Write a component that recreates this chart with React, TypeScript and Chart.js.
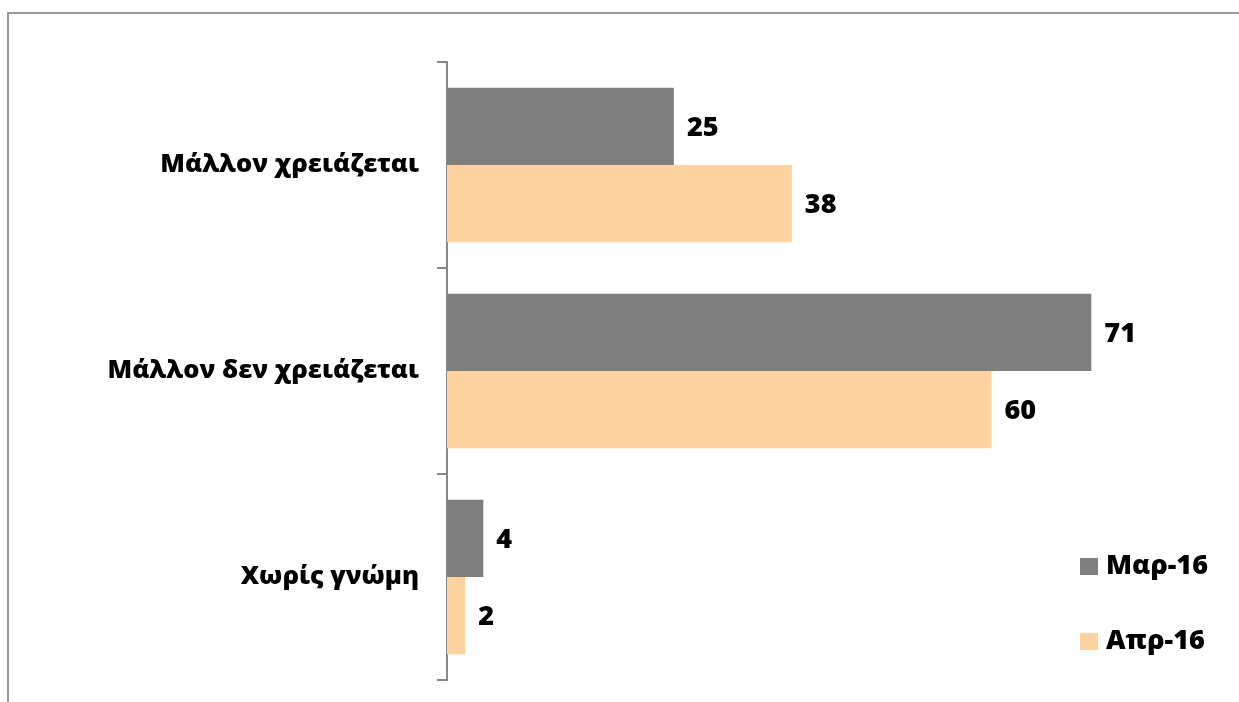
import React, { useEffect, useRef } from "react";
import { Chart, registerables } from "chart.js";

Chart.register(...registerables);

const categories = ["Μάλλον χρειάζεται", "Μάλλον δεν χρειάζεται", "Χωρίς γνώμη"];
const seriesLabels = ["Μαρ-16", "Απρ-16"];
const mar16 = [25, 71, 4];
const apr16 = [38, 60, 2];
const colors = ["#7F7F7F", "#FFD39F"];

const FONT = "'Open Sans', 'Noto Sans', sans-serif";

const valueLabels = {
  id: "valueLabels",
  afterDatasetsDraw(chart: any) {
    const ctx = chart.ctx;
    ctx.save();
    ctx.font = `800 27px ${FONT}`;
    ctx.fillStyle = "#000";
    ctx.textAlign = "left";
    ctx.textBaseline = "middle";
    chart.data.datasets.forEach((ds: any, i: number) => {
      const meta = chart.getDatasetMeta(i);
      meta.data.forEach((bar: any, j: number) => {
        ctx.fillText(String(ds.data[j]), bar.x + 13, bar.y + 2);
      });
    });
    ctx.restore();
  },
};

const customLegend = {
  id: "customLegend",
  afterDraw(chart: any) {
    const ctx = chart.ctx;
    ctx.save();
    ctx.font = `800 27px ${FONT}`;
    ctx.textAlign = "left";
    ctx.textBaseline = "middle";
    const ys = [566, 641];
    chart.data.datasets.forEach((ds: any, i: number) => {
      const y = ys[i];
      ctx.fillStyle = ds.backgroundColor;
      ctx.fillRect(1080, y - 8, 18, 17);
      ctx.fillStyle = "#000";
      ctx.fillText(ds.label, 1106, y);
    });
    ctx.restore();
  },
};

export default function App() {
  const ref = useRef<HTMLCanvasElement>(null);
  useEffect(() => {
    if (!ref.current) return;
    const chart = new Chart(ref.current, {
      type: "bar",
      data: {
        labels: categories,
        datasets: [
          { label: seriesLabels[0], data: mar16, backgroundColor: colors[0] },
          { label: seriesLabels[1], data: apr16, backgroundColor: colors[1] },
        ],
      },
      options: {
        indexAxis: "y",
        animation: false,
        responsive: false,
        maintainAspectRatio: false,
        layout: { padding: { left: 0, top: 62, bottom: 22, right: 66 } },
        datasets: { bar: { categoryPercentage: 0.75, barPercentage: 1 } },
        plugins: { legend: { display: false }, tooltip: { enabled: false } },
        scales: {
          x: { display: false, min: 0, max: 80 },
          y: {
            afterFit(scale: any) {
              scale.width = 447;
              scale.paddingTop = 0;
              scale.paddingBottom = 0;
            },
            border: { display: true, color: "#888888", width: 2 },
            grid: {
              offset: true,
              drawOnChartArea: false,
              drawTicks: true,
              tickLength: 10,
              color: "#888888",
              lineWidth: 2,
            },
            ticks: {
              color: "#000",
              padding: 18,
              font: { family: FONT, size: 25.5, weight: "800" },
            },
          },
        },
      },
      plugins: [valueLabels, customLegend],
    });
    return () => chart.destroy();
  }, []);
  return (
    <div style={{ position: "fixed", left: 0, top: 0, width: 1239, height: 702, overflow: "hidden", background: "#fff" }}>
      <div
        style={{
          position: "absolute",
          left: 7,
          top: 12,
          width: 1300,
          height: 800,
          border: "2px solid #999999",
        }}
      />
      <canvas ref={ref} width={1239} height={702} style={{ position: "absolute", left: 0, top: 0 }} />
    </div>
  );
}
